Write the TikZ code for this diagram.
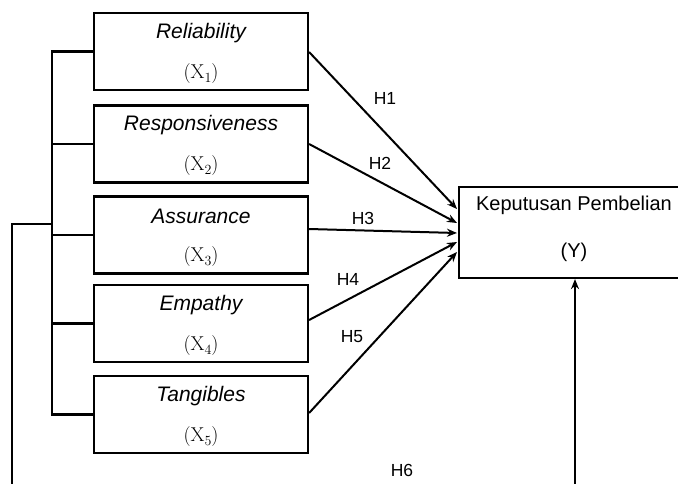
\documentclass[tikz,border=0pt]{standalone}
\usepackage{fontspec}
\setmainfont{Liberation Sans}
\newfontfamily\lmroman{Latin Modern Roman}
\usetikzlibrary{arrows.meta,calc}
\newcommand{\xsub}[1]{{\lmroman (X\raisebox{-0.22em}{\fontsize{14}{14}\selectfont #1})}}
\begin{document}
\begin{tikzpicture}[x=1pt,y=-1pt,
  box/.style={draw, line width=2.2pt, minimum width=214pt, minimum height=77pt, inner sep=0pt},
  ybox/.style={draw, line width=2.2pt, minimum width=230pt, minimum height=91pt, inner sep=0pt},
  conn/.style={line width=2.2pt},
  arr/.style={line width=2pt, -{Stealth[length=10pt,width=8pt]}},
  vname/.style={font=\fontsize{21}{24}\selectfont\itshape},
  vsub/.style={font=\fontsize{20}{22}\selectfont},
  ytext/.style={font=\fontsize{20}{24}\selectfont},
  hlab/.style={font=\fontsize{17.5}{20}\selectfont}]
\clip (0,0) rectangle (678,483);
\fill[white] (0,0) rectangle (678,483);
% boxes
\node[box] (b1) at (201,51.5) {};
\node[box] (b2) at (201,144) {};
\node[box] (b3) at (201,235) {};
\node[box] (b4) at (201,323.5) {};
\node[box] (b5) at (201,414.5) {};
\node[ybox] (Y) at (574,232.5) {};
% box texts
\node[vname] (n1) at ($(b1.north)+(0,21)$) {Reliability};
\node[vsub]  (s1) at ($(b1.south)+(0,-18)$) {\xsub{1}};
\node[vname] (n2) at ($(b2.north)+(0,21)$) {Responsiveness};
\node[vsub]  (s2) at ($(b2.south)+(0,-18)$) {\xsub{2}};
\node[vname] (n3) at ($(b3.north)+(0,21)$) {Assurance};
\node[vsub]  (s3) at ($(b3.south)+(0,-18)$) {\xsub{3}};
\node[vname] (n4) at ($(b4.north)+(0,21)$) {Empathy};
\node[vsub]  (s4) at ($(b4.south)+(0,-18)$) {\xsub{4}};
\node[vname] (n5) at ($(b5.north)+(0,21)$) {Tangibles};
\node[vsub]  (s5) at ($(b5.south)+(0,-18)$) {\xsub{5}};
\node[ytext] (yn) at ($(Y.center)+(0,-27)$) {Keputusan Pembelian};
\node[ytext] (ys) at ($(Y.center)+(0,19.5)$) {(Y)};
% bracket on the left
\coordinate (k1) at (52,51.5);
\coordinate (k2) at (52,144);
\coordinate (k3) at (52,235);
\coordinate (k4) at (52,323.5);
\coordinate (k5) at (52,414.5);
\coordinate (kj) at (52,224);
\coordinate (lt) at (12,224);
\coordinate (lb) at (12,495);
\draw[conn] (b1.west) -- (k1) -- (k5) -- (b5.west);
\draw[conn] (k2) -- (b2.west);
\draw[conn] (k3) -- (b3.west);
\draw[conn] (k4) -- (b4.west);
\draw[conn] (kj) -- (lt) -- (lb);
% arrows to Y
\coordinate (t1) at (457,209);
\coordinate (t2) at (457,223);
\coordinate (t3) at (457,233);
\coordinate (t4) at (457,242);
\coordinate (t5) at (457,252);
\draw[arr] ($(b1.east)+(0,0.5)$) -- (t1);
\draw[arr] (b2.east) -- (t2);
\draw[arr] ($(b3.east)+(0,-6)$) -- (t3);
\draw[arr] ($(b4.east)+(0,-3.5)$) -- (t4);
\draw[arr] ($(b5.east)+(0,-1.5)$) -- (t5);
\coordinate (hb) at (575,495);
\draw[arr] (hb) -- (hb |- Y.south);
% labels
\node[hlab] (h1) at (385,98) {H1};
\node[hlab] (h2) at (380,163) {H2};
\node[hlab] (h3) at (363,218) {H3};
\node[hlab] (h4) at (348,279) {H4};
\node[hlab] (h5) at (352,337) {H5};
\node[hlab] (h6) at (402,470) {H6};
\end{tikzpicture}
\end{document}
